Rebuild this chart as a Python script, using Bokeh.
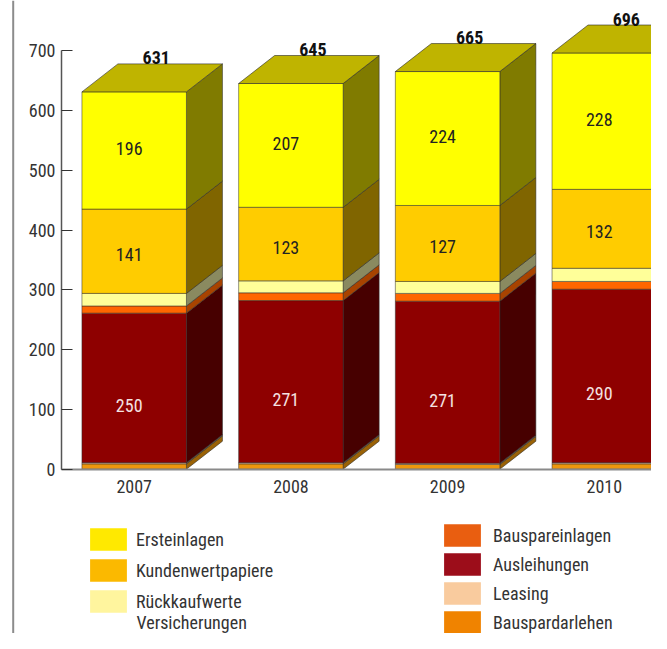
from bokeh.plotting import figure
from bokeh.models import (Range1d, LinearAxis, FixedTicker, Span, Legend,
                          LegendItem, ColumnDataSource, Label)
from bokeh.core.properties import value
from bokeh.embed import file_html
from bokeh.resources import INLINE

# ---------------- data ----------------
years = ["2007", "2008", "2009", "2010"]
totals = [631, 645, 665, 696]
bauspardarlehen = [9, 9, 8, 9]
leasing = [2, 2, 2, 2]
ausleihungen = [250, 271, 271, 290]
bauspareinlagen = [12, 13, 13, 13]
rueckkaufwerte = [21, 20, 20, 22]
kundenwertpapiere = [141, 123, 127, 132]
ersteinlagen = [196, 207, 224, 228]
y_ticks = [0, 100, 200, 300, 400, 500, 600, 700]

# bottom -> top stacking order
series = [
    ("Bauspardarlehen", bauspardarlehen),
    ("Leasing", leasing),
    ("Ausleihungen", ausleihungen),
    ("Bauspareinlagen", bauspareinlagen),
    ("Rückkaufwerte", rueckkaufwerte),
    ("Kundenwertpapiere", kundenwertpapiere),
    ("Ersteinlagen", ersteinlagen),
]
labelled = {"Ausleihungen", "Kundenwertpapiere", "Ersteinlagen"}

# ---------------- style ----------------
FONT = "Roboto Condensed, Liberation Sans Narrow, Roboto, sans-serif"
front_col = {"Bauspardarlehen": "#EE960C", "Leasing": "#F9CB9C",
             "Ausleihungen": "#8E0000", "Bauspareinlagen": "#FF6600",
             "Rückkaufwerte": "#FFFF99",
             "Kundenwertpapiere": "#FFCC00", "Ersteinlagen": "#FFFF00"}
side_col = {"Bauspardarlehen": "#9A6206", "Leasing": "#7D6650",
            "Ausleihungen": "#470000", "Bauspareinlagen": "#A84300",
            "Rückkaufwerte": "#8A8A60",
            "Kundenwertpapiere": "#806500", "Ersteinlagen": "#807B00"}
legend_col = {"Bauspardarlehen": "#F08300", "Leasing": "#F9CB9E",
              "Ausleihungen": "#9C0D1A", "Bauspareinlagen": "#E95E10",
              "Rückkaufwerte": "#FFF59E",
              "Kundenwertpapiere": "#FBB900", "Ersteinlagen": "#FFE900"}
text_col = {"Ausleihungen": "#F5E2E2", "Kundenwertpapiere": "#222222",
            "Ersteinlagen": "#222222"}
label_dy = {"Ausleihungen": 18, "Kundenwertpapiere": 3, "Ersteinlagen": -2}
TOP_COL = "#BFB400"
EDGE = "#2a2a2a"

W_PX, H_PX = 651, 633
X0, X1 = -0.8532, 3.3012
Y0, Y1 = -274.7, 783.8
PXX = W_PX / (X1 - X0)
PXY = H_PX / (Y1 - Y0)
BAR_W = 104.5 / PXX
DX = 36 / PXX
DY = 28 / PXY

p = figure(width=W_PX, height=H_PX, x_range=Range1d(X0, X1),
           y_range=Range1d(Y0, Y1), x_axis_type=None, y_axis_type=None,
           toolbar_location=None, output_backend="svg", min_border=0)
p.outline_line_color = None
p.background_fill_color = "white"
p.border_fill_color = "white"

xs_idx = list(range(len(years)))
base = [0] * len(years)
for name, vals in series:
    lefts = [i - BAR_W / 2 for i in xs_idx]
    rights = [i + BAR_W / 2 for i in xs_idx]
    bottoms = list(base)
    tops = [b + v for b, v in zip(base, vals)]
    # side faces
    sx = [[r, r + DX, r + DX, r] for r in rights]
    sy = [[b, b + DY, t + DY, t] for b, t in zip(bottoms, tops)]
    p.patches(sx, sy, fill_color=side_col[name], line_color=EDGE,
              line_alpha=0.55, line_width=1)
    # front faces
    p.quad(left=lefts, right=rights, bottom=bottoms, top=tops,
           fill_color=front_col[name], line_color=EDGE, line_alpha=0.5,
           line_width=1)
    if name in labelled:
        mids = [(b + t) / 2 for b, t in zip(bottoms, tops)]
        src = ColumnDataSource(dict(x=xs_idx, y=mids,
                                    t=[str(v) for v in vals]))
        p.text("x", "y", text="t", source=src, x_offset=-5,
               y_offset=label_dy[name], text_align="center",
               text_baseline="middle", text_font=value(FONT),
               text_font_size="18px", text_color=text_col[name])
    base = tops

# top faces
tx = [[i - BAR_W / 2, i - BAR_W / 2 + DX, i + BAR_W / 2 + DX, i + BAR_W / 2]
      for i in xs_idx]
ty = [[t, t + DY, t + DY, t] for t in base]
p.patches(tx, ty, fill_color=TOP_COL, line_color=EDGE, line_alpha=0.6,
          line_width=1)

# totals
tsrc = ColumnDataSource(dict(x=[i + DX / 2 for i in xs_idx],
                             y=[t + DY for t in totals],
                             t=[str(t) for t in totals]))
p.text("x", "y", text="t", source=tsrc, x_offset=4, y_offset=-6,
       text_align="center", text_baseline="alphabetic",
       text_font=value(FONT), text_font_size="18px",
       text_font_style="bold", text_color="#111111")

# left page border line
p.add_layout(Span(location=X0 + 12.7 / PXX, dimension="height",
                  line_color="#8c8c8c", line_width=2))

# axes
y_axis_x = X0 + 61 / PXX
yax = LinearAxis(fixed_location=y_axis_x, bounds=(0, 700),
                 ticker=FixedTicker(ticks=y_ticks))
yax.axis_line_color = "#555555"
yax.axis_line_width = 1.5
yax.major_tick_line_color = "#333333"
yax.major_tick_in = 11
yax.major_tick_out = 0
yax.minor_tick_in = 0
yax.minor_tick_out = 0
yax.major_label_standoff = 6
yax.major_label_text_font = FONT
yax.major_label_text_font_size = "18px"
yax.major_label_text_color = "#333333"
p.add_layout(yax, "left")

xax = LinearAxis(fixed_location=0, bounds=(y_axis_x, X1),
                 ticker=FixedTicker(ticks=xs_idx),
                 major_label_overrides={i: y for i, y in zip(xs_idx, years)})
xax.axis_line_color = "#8a8a8a"
xax.axis_line_width = 2
xax.major_tick_in = 0
xax.major_tick_out = 0
xax.minor_tick_in = 0
xax.minor_tick_out = 0
xax.major_label_standoff = 11
xax.major_label_text_font = FONT
xax.major_label_text_font_size = "18px"
xax.major_label_text_color = "#333333"
p.add_layout(xax, "below")

# legends (swatch colours as in the printed key; NaN quads draw nothing)
NAN = float("nan")
def make_legend(names, loc, spacing, standoff):
    items = []
    for n in names:
        r = p.quad(left=[NAN], right=[NAN], top=[NAN], bottom=[NAN],
                   fill_color=legend_col[n], line_color=None)
        items.append(LegendItem(label=n, renderers=[r]))
    lg = Legend(items=items, location=loc, orientation="vertical",
                glyph_width=46, glyph_height=28, label_height=28,
                label_standoff=standoff, spacing=spacing, padding=0,
                margin=0, border_line_color=None, background_fill_alpha=0,
                label_text_font=FONT, label_text_font_size="18px",
                label_text_color="#333333")
    p.add_layout(lg, "center")

make_legend(["Ersteinlagen", "Kundenwertpapiere", "Rückkaufwerte"],
            (85, 18), 3, 5)
# second line of the "Rückkaufwerte Versicherungen" key entry
p.add_layout(Label(x=136, y=11, x_units="screen", y_units="screen",
                   text="Versicherungen", text_font=FONT,
                   text_font_size="18px", text_color="#333333",
                   text_baseline="middle", text_align="left"))
make_legend(["Bauspareinlagen", "Ausleihungen", "Leasing",
             "Bauspardarlehen"], (439, -3), 1, 8)

open("out.html", "w").write(file_html(p, INLINE))
